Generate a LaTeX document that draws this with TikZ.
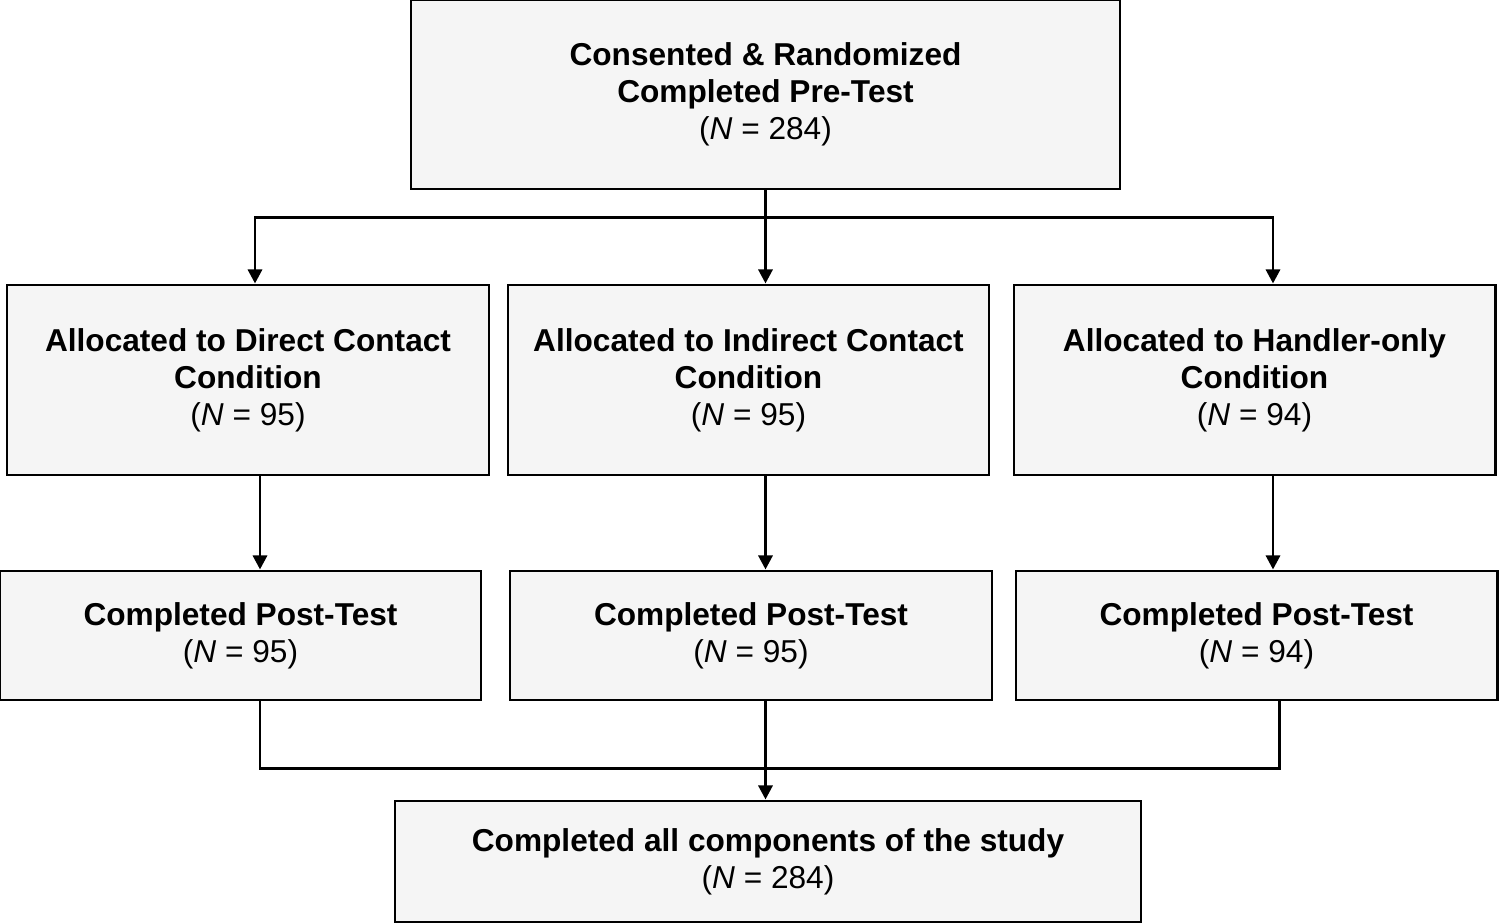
\documentclass[tikz,border=0pt]{standalone}
\usepackage{fontspec}
\setmainfont{Liberation Sans}
\usetikzlibrary{arrows.meta,positioning}

\definecolor{boxfill}{HTML}{F5F5F5}

\begin{document}
\begin{tikzpicture}[>={Triangle[length=4pt,width=4pt]},
  box/.style={draw=black, line width=0.85pt, fill=boxfill, align=center,
    inner sep=0pt, font=\fontsize{9}{10.5}\selectfont},
  arr/.style={->, line width=0.85pt},
  link/.style={line width=0.85pt}]
  \useasboundingbox (0,0) rectangle (15,-9.24);

  % Enrolment
  \node[box, minimum width=7.09cm, minimum height=1.89cm] (pretest) at (7.655,-0.945)
    {\textbf{Consented \& Randomized}\\\textbf{Completed Pre-Test}\\({\itshape N} = 284)};

  % Allocation
  \node[box, minimum width=4.82cm, minimum height=1.9cm] (direct) at (2.48,-3.80)
    {\textbf{Allocated to Direct Contact}\\\textbf{Condition}\\({\itshape N} = 95)};
  \node[box, minimum width=4.81cm, minimum height=1.9cm] (indirect) at (7.485,-3.80)
    {\textbf{Allocated to Indirect Contact}\\\textbf{Condition}\\({\itshape N} = 95)};
  \node[box, minimum width=4.81cm, minimum height=1.9cm] (handler) at (12.545,-3.80)
    {\textbf{Allocated to Handler-only}\\\textbf{Condition}\\({\itshape N} = 94)};

  % Post-test
  \node[box, minimum width=4.81cm, minimum height=1.29cm] (postA) at (2.405,-6.355)
    {\textbf{Completed Post-Test}\\({\itshape N} = 95)};
  \node[box, minimum width=4.82cm, minimum height=1.29cm] (postB) at (7.51,-6.355)
    {\textbf{Completed Post-Test}\\({\itshape N} = 95)};
  \node[box, minimum width=4.81cm, minimum height=1.29cm] (postC) at (12.565,-6.355)
    {\textbf{Completed Post-Test}\\({\itshape N} = 94)};

  % Completion
  \node[box, minimum width=7.46cm, minimum height=1.21cm] (done) at (7.68,-8.615)
    {\textbf{Completed all components of the study}\\({\itshape N} = 284)};

  % pre-test to allocation
  \coordinate (split) at ([yshift=-0.27cm]pretest.south);
  \draw[link] (pretest.south) -- (split);
  \draw[arr] (split) -| ([xshift=0.07cm]direct.north);
  \draw[arr] (split) -- ([xshift=0.17cm]indirect.north);
  \draw[arr] (split) -| ([xshift=0.185cm]handler.north);

  % allocation to post-test
  \draw[arr] ([xshift=0.12cm]direct.south) -- ([xshift=0.12cm]direct.south |- postA.north);
  \draw[arr] ([xshift=0.17cm]indirect.south) -- ([xshift=0.17cm]indirect.south |- postB.north);
  \draw[arr] ([xshift=0.185cm]handler.south) -- ([xshift=0.185cm]handler.south |- postC.north);

  % post-test to completion
  \coordinate (merge) at ([yshift=-0.67cm,xshift=0.145cm]postB.south);
  \draw[link] ([xshift=0.195cm]postA.south) |- (merge);
  \draw[link] ([xshift=0.225cm]postC.south) |- (merge);
  \draw[arr] ([xshift=0.145cm]postB.south) -- ([xshift=0.145cm]postB.south |- done.north);
\end{tikzpicture}
\end{document}
